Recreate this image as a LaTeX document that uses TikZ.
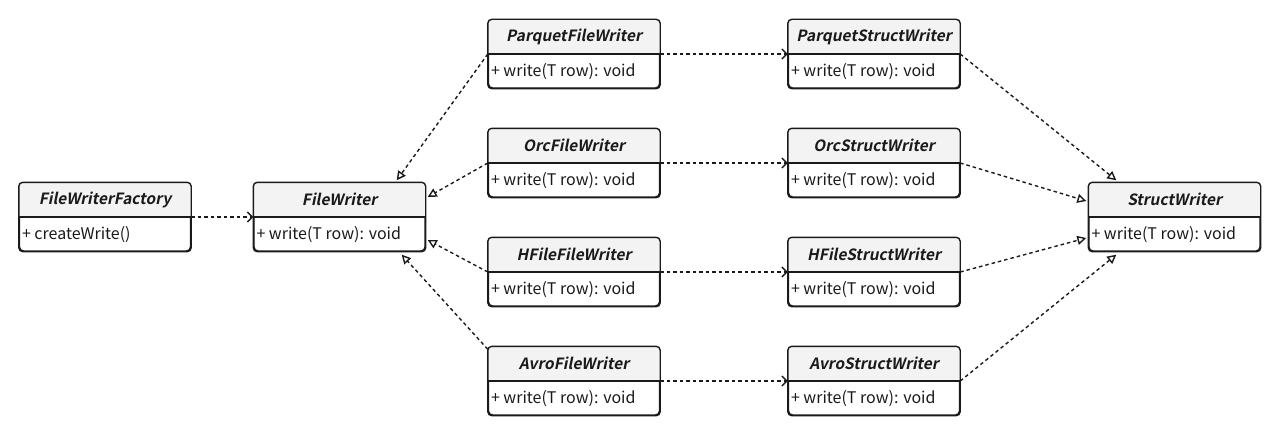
\documentclass[tikz,border=0pt]{standalone}
\usepackage{fontspec}
\setmainfont{Noto Sans CJK SC}
\newfontfamily\titlefont[FakeSlant=0.2]{Noto Sans CJK SC Bold}
\newfontfamily\bodyfont{Noto Sans CJK SC}
\usetikzlibrary{arrows.meta,calc}
\definecolor{headgray}{HTML}{F3F3F3}
\definecolor{ink}{HTML}{1A1A1A}
\tikzset{
  umlbox/.style={draw=ink, line width=1.4pt, fill=white, rounded corners=4pt, minimum width=171pt, minimum height=68pt, inner sep=0pt},
  titletext/.style={font=\titlefont\fontsize{15.5}{17}\selectfont, text=ink, inner sep=0pt},
  methodtext/.style={font=\bodyfont\fontsize{16}{18}\selectfont, text=ink, inner sep=0pt, anchor=west},
  dep/.style={draw=ink, line width=1.4pt, dash pattern=on 3.5pt off 3pt, -{Straight Barb[length=5pt,width=10pt]}},
  real/.style={draw=ink, line width=1.4pt, dash pattern=on 3.5pt off 3pt, -{Triangle[open,length=9pt,width=9pt,fill=white]}},
}
\newcommand{\umlclass}[5]{%
  \node[umlbox] (#1) at (#2,#3) {};
  \begin{scope}
    \clip[rounded corners=4pt] (#1.north west) rectangle (#1.south east);
    \fill[headgray] (#1.north west) rectangle (#1.east);
  \end{scope}
  \draw[ink, line width=1.4pt, rounded corners=4pt] (#1.north west) rectangle (#1.south east);
  \draw[ink, line width=1.4pt] (#1.west) -- (#1.east);
  \node[titletext] (#1-t) at ($(#1.north)!0.5!(#1.center)$) {#4};
  \node[methodtext] (#1-m) at ($(#1.west)!0.5!(#1.south west)+(3,0)$) {#5};
}
\begin{document}
\begin{tikzpicture}[x=1pt,y=-1pt]
\useasboundingbox (0,0) rectangle (1280,436);
\umlclass{fwf}{105}{217}{FileWriterFactory}{+ createWrite()}
\umlclass{fw}{339.5}{217}{FileWriter}{+ write(T row): void}
\umlclass{pfw}{574}{54}{ParquetFileWriter}{+ write(T row): void}
\umlclass{ofw}{574}{163}{OrcFileWriter}{+ write(T row): void}
\umlclass{hfw}{574}{272}{HFileFileWriter}{+ write(T row): void}
\umlclass{afw}{574}{381}{AvroFileWriter}{+ write(T row): void}
\umlclass{psw}{874}{54}{ParquetStructWriter}{+ write(T row): void}
\umlclass{osw}{874}{163}{OrcStructWriter}{+ write(T row): void}
\umlclass{hsw}{874}{272}{HFileStructWriter}{+ write(T row): void}
\umlclass{asw}{874}{381}{AvroStructWriter}{+ write(T row): void}
\umlclass{sw}{1174.5}{217}{StructWriter}{+ write(T row): void}

\draw[dep] (fwf.east) -- (fw.west);
\draw[dep] (pfw.east) -- (psw.west);
\draw[dep] (ofw.east) -- (osw.west);
\draw[dep] (hfw.east) -- (hsw.west);
\draw[dep] (afw.east) -- (asw.west);

\draw[real] (pfw.west) -- ([xshift=-29pt,yshift=2pt]fw.north east);
\draw[real] (ofw.west) -- ([xshift=2pt,yshift=20pt]fw.east);
\draw[real] (hfw.west) -- ([xshift=2pt,yshift=-23pt]fw.east);
\draw[real] ([yshift=-3pt]afw.north west) -- ([xshift=-24pt,yshift=-3pt]fw.south east);

\draw[real] (psw.east) -- ([xshift=28pt,yshift=2pt]sw.north west);
\draw[real] (osw.east) -- ([xshift=-2pt,yshift=16pt]sw.west);
\draw[real] (hsw.east) -- ([xshift=-2pt,yshift=-21pt]sw.west);
\draw[real] (asw.east) -- ([xshift=28pt,yshift=-3pt]sw.south west);
\end{tikzpicture}
\end{document}
